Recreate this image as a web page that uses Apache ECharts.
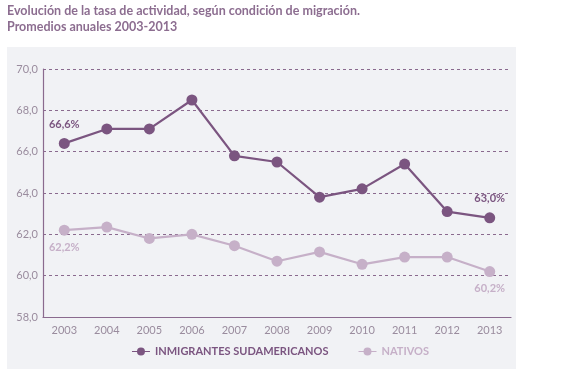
<!DOCTYPE html>
<html><head><meta charset="utf-8">
<script src="https://cdn.jsdelivr.net/npm/echarts@6/dist/echarts.min.js"></script>
<style>html,body{margin:0;padding:0;background:#fff;}#c{width:561px;height:374px;}</style>
</head><body><div id="c"></div>
<script>
var years = ['2003','2004','2005','2006','2007','2008','2009','2010','2011','2012','2013'];
var inmigrantes = [66.4, 67.1, 67.1, 68.5, 65.8, 65.5, 63.8, 64.2, 65.4, 63.1, 62.8];
var nativos = [62.2, 62.35, 61.8, 62.0, 61.45, 60.7, 61.15, 60.55, 60.9, 60.9, 60.2];
var inmLabels = {0: '66,6%', 10: '63,0%'};
var natLabels = {0: '62,2%', 10: '60,2%'};

var dark = '#7b5580', light = '#c6b0c8', txt = '#9a8c9e';
var font = 'Lato';
var chart = echarts.init(document.getElementById('c'), null, {renderer: 'canvas'});
chart.setOption({
  backgroundColor: '#fff',
  animation: false,
  graphic: [
    {type: 'rect', shape: {x: 7, y: 47, width: 509, height: 322}, style: {fill: '#f1f2f5'}, z: -10},
    {type: 'text', left: 7, top: 3, style: {text: 'Evolución de la tasa de actividad, según condición de migración.\nPromedios anuales 2003-2013', fill: '#8c6d90', font: 'bold 12.5px ' + font, lineHeight: 16}}
  ],
  grid: {left: 43, right: 50, top: 69, bottom: 57},
  legend: {
    bottom: 12, left: 'center', itemWidth: 18, itemHeight: 10, itemGap: 30,
    icon: 'path://M0,4.5 L18,4.5 L18,5.5 L0,5.5 Z M9,1 A4,4 0 1 1 8.99,1 Z',
    textStyle: {fontFamily: font, fontSize: 11, fontWeight: 'bold'},
    data: [
      {name: 'INMIGRANTES SUDAMERICANOS', textStyle: {color: dark}},
      {name: 'NATIVOS', textStyle: {color: light}}
    ]
  },
  xAxis: {
    type: 'category', data: years, boundaryGap: true,
    axisLine: {lineStyle: {color: '#8a6a8e', width: 1.2}},
    axisTick: {inside: true, length: 4, lineStyle: {color: '#8a6a8e'}},
    axisLabel: {color: txt, fontFamily: font, fontSize: 11, margin: 8}
  },
  yAxis: {
    type: 'value', min: 58, max: 70, interval: 2,
    axisLine: {show: true, lineStyle: {color: '#8a6a8e', width: 1.2}},
    axisTick: {show: false},
    axisLabel: {color: txt, fontFamily: font, fontSize: 11, margin: 5,
      formatter: function (v) { return v.toFixed(1).replace('.', ','); }},
    splitLine: {show: true, lineStyle: {color: '#8a6a8e', type: [3, 3], width: 1}}
  },
  series: [
    {
      name: 'INMIGRANTES SUDAMERICANOS', type: 'line', data: inmigrantes,
      color: dark, symbol: 'circle', symbolSize: 11,
      lineStyle: {width: 2.2, color: dark}, itemStyle: {color: dark},
      label: {show: true, position: 'top', distance: 8, color: dark, fontFamily: font, fontSize: 11, fontWeight: 'bold',
        formatter: function (p) { return inmLabels[p.dataIndex] || ''; }},
      z: 3
    },
    {
      name: 'NATIVOS', type: 'line', data: nativos,
      color: light, symbol: 'circle', symbolSize: 11,
      lineStyle: {width: 2.2, color: light}, itemStyle: {color: light},
      label: {show: true, position: 'bottom', distance: 6, color: light, fontFamily: font, fontSize: 11, fontWeight: 'bold',
        formatter: function (p) { return natLabels[p.dataIndex] || ''; }},
      z: 2
    }
  ]
});
</script></body></html>
